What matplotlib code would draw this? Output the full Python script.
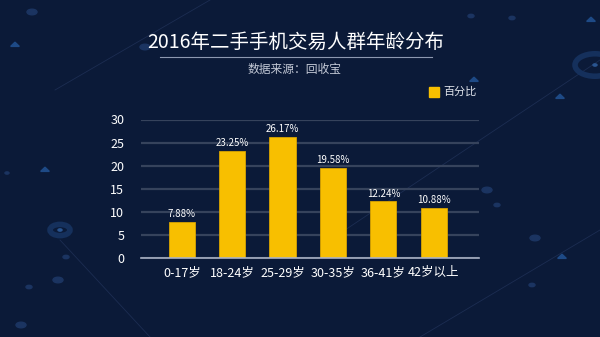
import matplotlib
matplotlib.use("Agg")
import matplotlib.pyplot as plt
from matplotlib.patches import Circle, RegularPolygon, Rectangle
from matplotlib.lines import Line2D

plt.rcParams['font.family'] = ['Noto Sans CJK SC', 'DejaVu Sans']

# data
categories = ['0-17岁', '18-24岁', '25-29岁', '30-35岁', '36-41岁', '42岁以上']
percent = [7.88, 23.25, 26.17, 19.58, 12.24, 10.88]
y_ticks = [0, 5, 10, 15, 20, 25, 30]

bg = '#0b1a38'
gold = '#f8bf00'

W, H = 600, 337
fig = plt.figure(figsize=(6, 3.37), dpi=100, facecolor=bg)


def px(x, y):
    # figure pixel coords (from top-left) -> figure fraction
    return x / W, 1 - y / H


# background decoration
for (x0, y0), (x1, y1) in [((55, 90), (210, 0)), ((60, 240), (150, 337)),
                           ((330, 240), (600, 60)), ((420, 337), (600, 230))]:
    a, b = px(x0, y0)
    c, d = px(x1, y1)
    fig.add_artist(Line2D([a, c], [b, d], transform=fig.transFigure,
                          color='#1c2d52', lw=0.6, zorder=0))

dots = [(32, 12, 5), (145, 47, 5), (7, 173, 2), (66, 257, 3), (58, 280, 5),
        (29, 287, 3), (21, 325, 5), (512, 18, 3), (471, 16, 3), (487, 190, 5),
        (497, 205, 3), (535, 238, 5), (532, 285, 3)]
for x, y, r in dots:
    fig.add_artist(Circle(px(x, y), r / W, transform=fig.transFigure,
                          color='#1b3461', zorder=0))
for x, y, r in [(60, 230, 10), (595, 65, 20)]:
    fig.add_artist(Circle(px(x, y), r / W, transform=fig.transFigure,
                          fill=False, ec='#15305c', lw=4, zorder=0))
    fig.add_artist(Circle(px(x, y), 2 / W, transform=fig.transFigure,
                          color='#2a5590', zorder=0))
tris = [(15, 45), (45, 170), (591, 20), (474, 80), (560, 97), (562, 257)]
for x, y in tris:
    fig.add_artist(RegularPolygon(px(x, y), 3, radius=5 / W,
                                  transform=fig.transFigure,
                                  color='#1e4a86', zorder=0))

# title block
fig.text(*px(296, 42), '2016年二手手机交易人群年龄分布', color='white',
         fontsize=14, ha='center', va='center')
fig.add_artist(Line2D([160 / W, 432 / W], [1 - 57 / H] * 2,
                      transform=fig.transFigure, color='#8d98b0', lw=0.8))
fig.text(*px(295, 69), '数据来源：回收宝', color='#c3c9d6',
         fontsize=8.5, ha='center', va='center')

# axes
l, r, t, b = 141, 479, 119.5, 258
ax = fig.add_axes([l / W, 1 - b / H, (r - l) / W, (b - t) / H])
ax.set_facecolor('none')
x = range(len(categories))
bars = ax.bar(x, percent, width=0.52, color=gold, edgecolor='#d9a400',
              lw=0.6, zorder=3, label='百分比')
for xi, v in zip(x, percent):
    ax.text(xi, v + 0.6, f'{v:.2f}%', color='white', fontsize=7,
            ha='center', va='bottom', zorder=4)

ax.set_xlim(-0.81, 5.9)
ax.set_ylim(0, 30)
ax.set_yticks(y_ticks)
ax.set_xticks(list(x))
ax.set_xticklabels(categories)
ax.tick_params(colors='white', labelsize=9, length=0)
ax.tick_params(axis='y', pad=12)
ax.tick_params(axis='x', pad=6)
ax.grid(axis='y', color='#36435c', lw=1.6, zorder=0)
for s in ['top', 'right', 'left']:
    ax.spines[s].set_visible(False)
ax.spines['bottom'].set_color('#aab2c4')
ax.spines['bottom'].set_linewidth(1.2)
ax.spines['bottom'].set_zorder(5)

# legend
lx, ly = px(429, 97)
fig.add_artist(Rectangle((lx, ly), 10 / W, 10 / H, transform=fig.transFigure,
                         color=gold))
fig.text(*px(443, 92), '百分比', color='#dfe3ea', fontsize=8,
         ha='left', va='center')

fig.savefig('out.png', dpi=100, facecolor=bg)
